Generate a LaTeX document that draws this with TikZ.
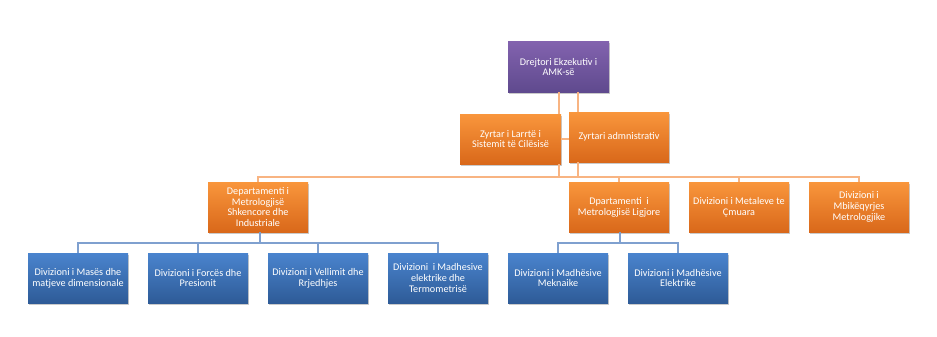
\documentclass[tikz,border=0pt]{standalone}
\usepackage{fontspec}
\setmainfont{Carlito}
\usetikzlibrary{shadows}
\definecolor{purT}{HTML}{8262AE}
\definecolor{purB}{HTML}{5F4A8E}
\definecolor{orT}{HTML}{F9963C}
\definecolor{orB}{HTML}{D9681A}
\definecolor{blT}{HTML}{4A84CE}
\definecolor{blB}{HTML}{2E5B97}
\definecolor{oLine}{HTML}{F8B482}
\definecolor{bLine}{HTML}{7FA0CF}
\tikzset{
  box/.style={minimum width=100pt, minimum height=50pt, inner sep=0pt,
    align=center, text=white, font=\fontsize{10.2}{10.7}\selectfont,
    draw=none, drop shadow={shadow xshift=1.2pt, shadow yshift=-1.5pt, opacity=0.35, fill=black!60}},
  purbox/.style={box, top color=purT, bottom color=purB},
  orbox/.style={box, top color=orT, bottom color=orB},
  blbox/.style={box, top color=blT, bottom color=blB},
  oline/.style={draw=oLine, line width=1.1pt},
  bline/.style={draw=bLine, line width=1.1pt},
}
\begin{document}
\begin{tikzpicture}[x=1pt,y=-1pt]
\useasboundingbox (0,0) rectangle (937,337);
\coordinate (b1) at (559,177);
\coordinate (b2) at (578,177);
\coordinate (c1) at (260,243);
\coordinate (c2) at (620,243);
\node[purbox, minimum width=101pt] (top) at (558.5,67) {Drejtori Ekzekutiv i\\AMK-së};
\node[orbox, minimum width=101pt] (asst) at (510.5,139) {Zyrtar i Larrtë i\\Sistemit të Cilësisë};
\node[orbox] (admin) at (619,137) {Zyrtari admnistrativ};
\node[orbox] (dep1) at (258,207) {Departamenti i\\Metrologjisë\\Shkencore dhe\\Industriale};
\node[orbox] (dep2) at (619,207) {Dpartamenti\ \ i\\Metrologjisë Ligjore};
\node[orbox] (dep3) at (739,207) {Divizioni i Metaleve te\\Çmuara};
\node[orbox] (dep4) at (859,207) {Divizioni i\\Mbikëqyrjes\\Metrologjike};
\node[blbox] (d1) at (78,278) {Divizioni i Masës dhe\\matjeve dimensionale};
\node[blbox] (d2) at (198,278) {Divizioni i Forcës dhe\\Presionit};
\node[blbox] (d3) at (318,278) {Divizioni i Vellimit dhe\\Rrjedhjes};
\node[blbox] (d4) at (438,278) {Divizioni\ \ i Madhesive\\elektrike dhe\\Termometrisë};
\node[blbox] (d5) at (558,278) {Divizioni i Madhësive\\Meknaike};
\node[blbox] (d6) at (678,278) {Divizioni i Madhësive\\Elektrike};
% orange connectors
\draw[oline] (top.south -| b1) -- (asst.north -| b1);
\draw[oline] (asst.south -| b1) -- (b1);
\draw[oline] (top.south -| b2) -- (admin.north -| b2);
\draw[oline] (admin.south -| b2) -- (b2);
\draw[oline] (asst.east) -- (asst.east -| admin.west);
\draw[oline] (b1) -| (dep1.north);
\draw[oline] (b1) -| (dep2.north);
\draw[oline] (b2) -| (dep3.north);
\draw[oline] (b2) -| (dep4.north);
% blue connectors
\draw[bline] (dep1.south -| c1) -- (c1);
\draw[bline] (c1) -| (d1.north);
\draw[bline] (c1) -| (d2.north);
\draw[bline] (c1) -| (d3.north);
\draw[bline] (c1) -| (d4.north);
\draw[bline] (dep2.south -| c2) -- (c2);
\draw[bline] (c2) -| (d5.north);
\draw[bline] (c2) -| (d6.north);
\end{tikzpicture}
\end{document}
